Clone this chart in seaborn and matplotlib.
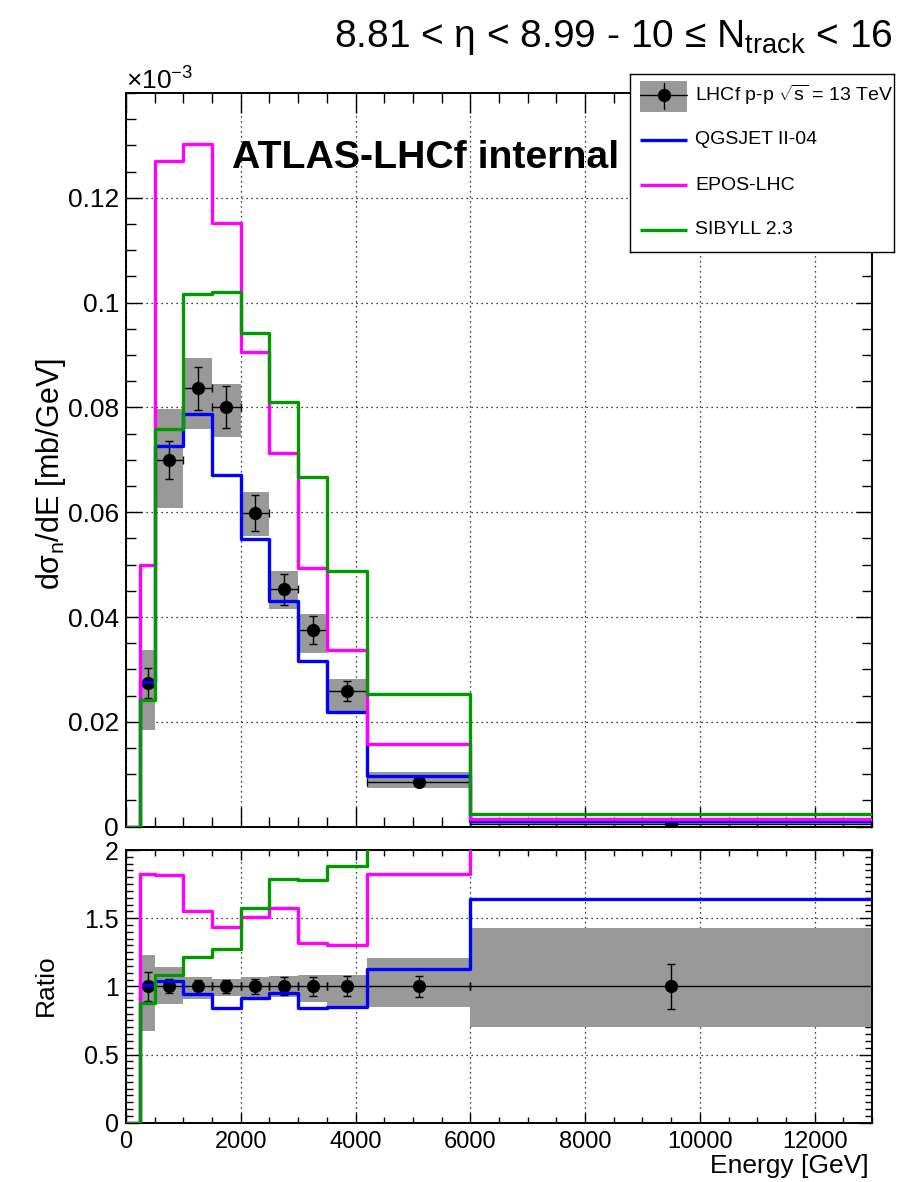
import numpy as np
import matplotlib
matplotlib.use("Agg")
import matplotlib.pyplot as plt
from matplotlib.ticker import MultipleLocator, FuncFormatter, FixedLocator
from matplotlib.patches import Rectangle
from matplotlib.lines import Line2D
import seaborn as sns

# ---------------------------------------------------------------- data
# Energy bin edges [GeV]
edges = [0, 250, 500, 1000, 1500, 2000, 2500, 3000, 3500, 4200, 6000, 13000]

# Model predictions per bin, dsigma/dE in units of 1e-3 mb/GeV
qgsjet = [0.0, 0.0276, 0.0727, 0.0787, 0.0672, 0.0549, 0.0430, 0.0316, 0.0219, 0.0097, 0.0010]
epos = [0.0, 0.0500, 0.1271, 0.1302, 0.1151, 0.0905, 0.0713, 0.0493, 0.0337, 0.0157, 0.0015]
sibyll = [0.0, 0.0241, 0.0759, 0.1017, 0.1021, 0.0943, 0.0811, 0.0668, 0.0487, 0.0253, 0.0024]

# LHCf measurement (bins 2..11), units of 1e-3 mb/GeV
data_x = [375, 750, 1250, 1750, 2250, 2750, 3250, 3850, 5100, 9500]
data_y = [0.0274, 0.0700, 0.0837, 0.0800, 0.0599, 0.0453, 0.0375, 0.0259, 0.0086, 0.00061]
data_stat = [0.0029, 0.0036, 0.0041, 0.0040, 0.0034, 0.0030, 0.0027, 0.0019, 0.00066, 0.0001]
data_sys_hi = [0.0338, 0.0797, 0.0895, 0.0845, 0.0638, 0.0488, 0.0405, 0.0281, 0.0104, 0.00087]
data_sys_lo = [0.0184, 0.0608, 0.0759, 0.0743, 0.0554, 0.0416, 0.0332, 0.0219, 0.0073, 0.00043]

model_names = ["QGSJET II-04", "EPOS-LHC", "SIBYLL 2.3"]
model_colors = ["#0000ff", "#ff00ff", "#009900"]
data_label = r"LHCf p-p $\sqrt{\mathrm{s}}$ = 13 TeV"
title_text = r"8.81 < η < 8.99 - 10 ≤ N$_{\mathrm{track}}$ < 16"

# ---------------------------------------------------------------- style
sns.set_theme(style="ticks")
plt.rcParams["font.family"] = ["Liberation Sans", "DejaVu Sans"]
plt.rcParams["mathtext.fontset"] = "custom"
plt.rcParams["mathtext.rm"] = "Liberation Sans"
plt.rcParams["mathtext.it"] = "Liberation Sans:italic"
plt.rcParams["mathtext.bf"] = "Liberation Sans:bold"
plt.rcParams["axes.unicode_minus"] = False
for key in ("text.color", "axes.labelcolor", "xtick.color", "ytick.color",
            "axes.edgecolor"):
    plt.rcParams[key] = "black"

W, H = 899, 1182
fig = plt.figure(figsize=(W / 100, H / 100), dpi=100)
fig.patch.set_facecolor("white")

L, R = 126, 872
top_t, top_b = 93, 826.7
bot_t, bot_b = 850, 1122.7
ax1 = fig.add_axes([L / W, 1 - top_b / H, (R - L) / W, (top_b - top_t) / H])
ax2 = fig.add_axes([L / W, 1 - bot_b / H, (R - L) / W, (bot_b - bot_t) / H])

edges_a = np.asarray(edges, float)
bin_lo = edges_a[1:-1]
bin_w = np.diff(edges_a)[1:]
dx = np.asarray(data_x, float)
dy = np.asarray(data_y, float)
dstat = np.asarray(data_stat, float)
shi = np.asarray(data_sys_hi, float)
slo = np.asarray(data_sys_lo, float)
xerr = np.vstack([dx - bin_lo, bin_lo + bin_w - dx])

models = [np.asarray(m, float) for m in (qgsjet, epos, sibyll)]

GRAY = "#999999"
LW = 2.4
px = 0.72  # points per pixel at 100 dpi


def style_axes(ax, xmaj_len, xmin_len, ymaj_len, ymin_len, xlab, ylab):
    ax.set_facecolor("white")
    for s in ax.spines.values():
        s.set_linewidth(1.4)
        s.set_color("black")
    ax.set_axisbelow(True)
    ax.grid(True, which="major", color="black", lw=0.9, ls=(0, (1, 3)))
    ax.tick_params(axis="both", which="both", direction="in", top=True, right=True,
                   color="black", width=1.0, labelcolor="black")
    ax.tick_params(axis="x", which="major", length=xmaj_len * px, pad=6, labelsize=xlab)
    ax.tick_params(axis="x", which="minor", length=xmin_len * px)
    ax.tick_params(axis="y", which="major", length=ymaj_len * px, pad=5, labelsize=ylab)
    ax.tick_params(axis="y", which="minor", length=ymin_len * px)
    ax.xaxis.set_major_locator(MultipleLocator(2000))
    ax.xaxis.set_minor_locator(MultipleLocator(500))
    ax.set_xlim(0, 13000)


gfmt = FuncFormatter(lambda v, p: ("%g" % round(v, 6)))

# ---------------------------------------------------------------- top panel
ax1.bar(bin_lo, shi - slo, bottom=slo, width=bin_w, align="edge", color=GRAY,
        edgecolor="none", zorder=1)
ax1.errorbar(dx, dy, xerr=xerr, yerr=dstat, fmt="none", ecolor="black",
             elinewidth=1.0, capsize=3, capthick=1.0, zorder=3)
sns.scatterplot(x=dx, y=dy, color="black", s=90, edgecolor="black", linewidth=0,
                zorder=3.5, ax=ax1, legend=False)
for m, c in zip(models, model_colors):
    sns.lineplot(x=edges_a, y=np.append(m, m[-1]), drawstyle="steps-post",
                 estimator=None, sort=False, color=c, lw=LW, ax=ax1, legend=False,
                 zorder=4)

style_axes(ax1, 20, 10, 16, 10, 17, 19)
ax1.set_ylim(0, 0.14)
ax1.yaxis.set_major_locator(FixedLocator([0, 0.02, 0.04, 0.06, 0.08, 0.1, 0.12]))
ax1.yaxis.set_minor_locator(MultipleLocator(0.005))
ax1.yaxis.set_major_formatter(gfmt)
ax1.tick_params(axis="x", labelbottom=False)
ax1.set_xlabel("")
ax1.set_ylabel("dσ$_{\\mathrm{n}}$/dE [mb/GeV]", fontsize=22)
ax1.yaxis.set_label_coords(-0.078, 0.48)
ax1.text(0.0, (top_b - 90) / (top_b - top_t), r"$\times$10$^{-3}$",
         transform=ax1.transAxes, fontsize=19, ha="left", va="baseline")
ax1.text((232 - L) / (R - L), (top_b - 168) / (top_b - top_t), "ATLAS-LHCf internal",
         transform=ax1.transAxes, fontsize=28.3, fontweight="bold", ha="left",
         va="baseline", zorder=6)

# ---------------------------------------------------------------- ratio panel
ax2.bar(bin_lo, (shi - slo) / dy, bottom=slo / dy, width=bin_w, align="edge",
        color=GRAY, edgecolor="none", zorder=1)
ones = np.ones_like(dy)
ax2.errorbar(dx, ones, xerr=xerr, yerr=dstat / dy, fmt="none", ecolor="black",
             elinewidth=1.0, capsize=3, capthick=1.0, zorder=3)
sns.scatterplot(x=dx, y=ones, color="black", s=90, edgecolor="black", linewidth=0,
                zorder=3.5, ax=ax2, legend=False)
for m, c in zip(models, model_colors):
    r = np.concatenate([[0.0], m[1:] / dy])
    sns.lineplot(x=edges_a, y=np.append(r, r[-1]), drawstyle="steps-post",
                 estimator=None, sort=False, color=c, lw=LW, ax=ax2, legend=False,
                 zorder=4)

style_axes(ax2, 10, 6, 13, 7, 17, 18)
ax2.set_ylim(0, 2)
ax2.yaxis.set_major_locator(MultipleLocator(0.5))
ax2.yaxis.set_minor_locator(MultipleLocator(0.05))
ax2.yaxis.set_major_formatter(gfmt)
ax2.xaxis.set_major_formatter(gfmt)
ax2.set_ylabel("Ratio", fontsize=19)
ax2.yaxis.set_label_coords(-0.091, 0.505)
ax2.set_xlabel("Energy [GeV]", fontsize=19)
ax2.xaxis.set_label_coords(0.995, (bot_b - 1166) / (bot_b - bot_t))
ax2.xaxis.label.set_ha("right")
ax2.xaxis.label.set_va("center")

# ---------------------------------------------------------------- title
fig.text(893 / W, 1 - 47 / H, title_text, fontsize=28, ha="right", va="baseline")

# ---------------------------------------------------------------- legend box
lx0, ly0, lx1, ly1 = 630, 74, 894, 252
lax = fig.add_axes([lx0 / W, 1 - ly1 / H, (lx1 - lx0) / W, (ly1 - ly0) / H], zorder=10)
lax.set_xlim(0, lx1 - lx0)
lax.set_ylim(ly1 - ly0, 0)
lax.set_xticks([])
lax.set_yticks([])
lax.set_facecolor("white")
for s in lax.spines.values():
    s.set_linewidth(1.0)
    s.set_color("black")
lax.add_patch(Rectangle((10, 7), 47, 31, color=GRAY, lw=0))
lax.add_line(Line2D([10, 57], [21, 21], color="black", lw=1.0))
lax.add_line(Line2D([33.5, 33.5], [9, 35], color="black", lw=1.0))
lax.plot([33.5], [21], "o", color="black", ms=9.5, mew=0)
lax.text(65, 21, data_label, fontsize=14, va="center", ha="left")
for i, (name, c) in enumerate(zip(model_names, model_colors)):
    yy = 66 + 45 * i
    lax.add_line(Line2D([10, 57], [yy, yy], color=c, lw=LW, solid_capstyle="butt"))
    lax.text(65, yy, name, fontsize=14, va="center", ha="left")

fig.savefig("out.png", dpi=100, facecolor="white")
